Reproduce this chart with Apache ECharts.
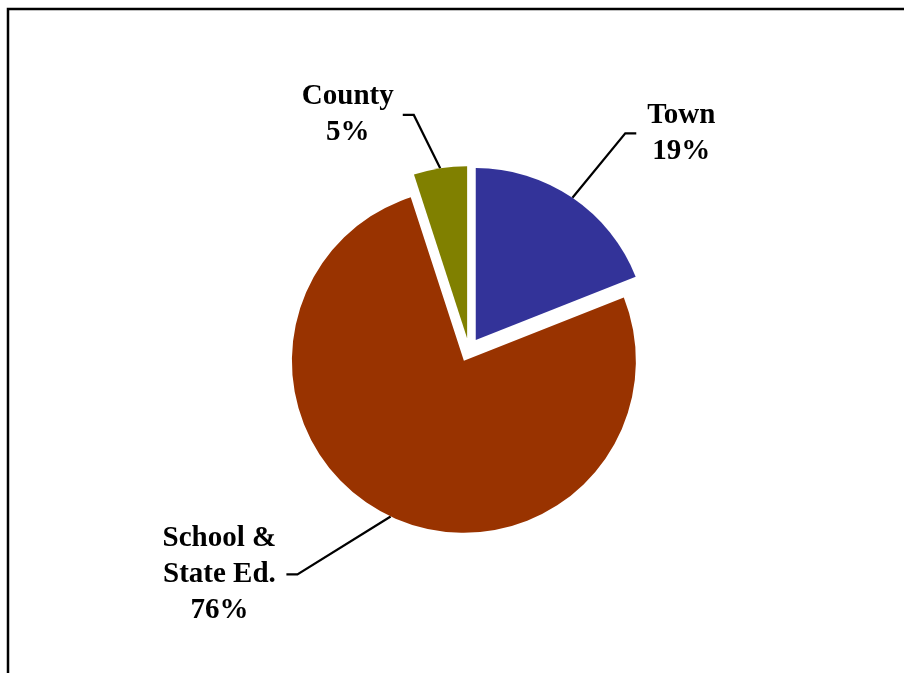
<!DOCTYPE html>
<html>
  <head>
    <meta charset="utf-8" />
    <title>Pie</title>
    <script src="https://cdn.jsdelivr.net/npm/echarts@6/dist/echarts.min.js"></script>
  </head>
  <body style="margin:0;background:#fff;">
    <div id="container" style="width: 904px;height: 673px;"></div>

    <script type="text/javascript">
    // 数据
    var names = ['Town', 'School &\nState Ed.', 'County'];
    var values = [19, 76, 5];
    var colors = ['#333399', '#993300', '#808000'];
    // 标签样式 key 及引导线长度
    var richKeys = ['t', 's', 'c'];
    var lineLen = [78, 64, 54];
    var lineLen2 = [20, 77, 29];

    var myChart = echarts.init(document.getElementById('container'));

    var pieData = names.map(function (n, i) {
        return {
            name: n,
            value: values[i],
            selected: true,
            itemStyle: { color: colors[i] },
            labelLine: { length: lineLen[i], length2: lineLen2[i] },
            label: {
                formatter: function (p) {
                    var k = richKeys[p.dataIndex];
                    var lines = p.name.split('\n');
                    lines.push(p.value + '%');
                    return lines.map(function (s) { return '{' + k + '|' + s + '}'; }).join('\n');
                }
            }
        };
    });

    var txt = { fontFamily: 'Liberation Serif', fontWeight: 'bold', fontSize: 29, color: '#000', align: 'center', lineHeight: 36 };

    var option = {
        animation: false,
        graphic: [{
            type: 'polyline',
            shape: { points: [[8, 700], [8, 9], [910, 9]] },
            style: { stroke: '#000', lineWidth: 2.5, fill: null }
        }],
        series: [{
            type: 'pie',
            center: [469, 350],
            radius: 172,
            startAngle: 90,
            selectedMode: 'multiple',
            selectedOffset: 12,
            avoidLabelOverlap: false,
            emphasis: { disabled: true },
            label: {
                show: true,
                position: 'outside',
                distanceToLabelLine: 5,
                rich: {
                    t: Object.assign({ width: 80 }, txt),
                    c: Object.assign({ width: 100 }, txt),
                    s: Object.assign({ width: 124 }, txt)
                }
            },
            labelLine: {
                show: true,
                smooth: false,
                lineStyle: { color: '#000', width: 2.2 }
            },
            // 让引导线的水平段变短，更接近原图
            labelLayout: function (params) {
                var p = params.labelLinePoints;
                if (!p) return {};
                var s = p[2][0] < p[0][0] ? 1 : -1;
                return {
                    labelLinePoints: [p[0], [p[2][0] + s * 11, p[2][1]], p[2]]
                };
            },
            data: pieData
        }]
    };

    myChart.setOption(option);
    window.addEventListener('resize', myChart.resize);
    </script>
  </body>
</html>
